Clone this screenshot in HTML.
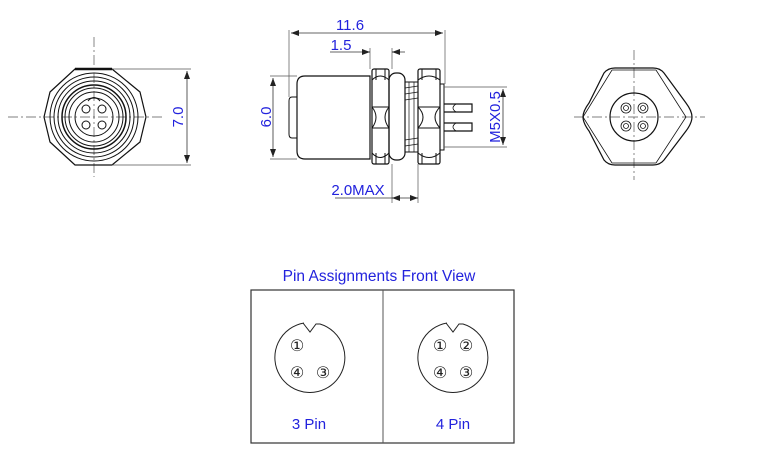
<!DOCTYPE html>
<html><head><meta charset="utf-8"><style>
html,body{margin:0;padding:0;background:#fff;width:759px;height:454px;overflow:hidden}
svg text{font-family:"Liberation Sans","DejaVu Sans",sans-serif}
</style></head><body>
<svg width="759" height="454" viewBox="0 0 759 454" xmlns="http://www.w3.org/2000/svg">
<defs>
<marker id="a" markerWidth="8" markerHeight="6" refX="8" refY="3" orient="auto-start-reverse" markerUnits="userSpaceOnUse"><path d="M0,0 L8,3 L0,6 z" fill="#222"/></marker>
</defs>
<g fill="none" stroke="#111" stroke-width="1">
<!-- LEFT VIEW -->
<path d="M8,117 H165 M94,37 V177" stroke="#555" stroke-width="0.7" stroke-dasharray="10,3,2,3"/>
<path d="M75,69 H112 L140,92 L146,117 L140,142 L112,165 H75 L50,142 L44,117 L50,92 Z" stroke-width="1.2"/>
<path d="M75,69 H112" stroke-width="2.5"/>
<circle cx="94" cy="117" r="44"/>
<circle cx="94" cy="117" r="40"/>
<circle cx="94" cy="117" r="36"/>
<circle cx="94" cy="117" r="32" stroke-width="1.5"/>
<circle cx="94" cy="117" r="29"/>
<circle cx="94" cy="117" r="25"/>
<circle cx="94" cy="117" r="19"/>
<path d="M88,101 Q94,94 100,101" />
<circle cx="86" cy="109" r="4"/><circle cx="102" cy="109" r="4"/>
<circle cx="86" cy="125" r="4"/><circle cx="102" cy="125" r="4"/>
<path d="M112,69 H191 M112,165 H191" stroke="#555" stroke-width="0.7"/>
<path d="M187,71 V163" stroke="#333" stroke-width="0.8" marker-start="url(#a)" marker-end="url(#a)"/>

<!-- MIDDLE VIEW -->
<path d="M305,76 H370 V159 H305 Q297,159 297,151 V84 Q297,76 305,76 Z" stroke-width="1.2"/>
<path d="M297,97 H292 Q289,97 289,101 V134 Q289,138 292,138 H297"/>
<rect x="372" y="69" width="17" height="95" rx="2" stroke-width="1.2"/>
<path d="M372,80 Q380,72 389,80 M372,153 Q380,162 389,153 M372,107 H389 M372,128 H389 M372,107 Q380,117 372,128 M389,107 Q381,117 389,128 M376,69 V80 M385,69 V80 M376,153 V164 M385,153 V164"/>
<rect x="389" y="73" width="16" height="87" rx="7" stroke-width="1.2"/>
<rect x="405" y="82" width="13" height="70" />
<path d="M405,88 L418,86 M405,94 L418,92 M405,100 L418,98 M405,140 L418,138 M405,146 L418,144 M409,82 V152 M414,82 V152" stroke-width="0.7"/>
<rect x="418" y="69" width="22" height="95" rx="2" stroke-width="1.2"/>
<path d="M418,80 Q429,72 440,80 M418,153 Q429,162 440,153 M418,107 H440 M418,128 H440 M418,107 Q428,117 418,128 M440,107 Q430,117 440,128 M422,69 V80 M436,69 V80 M422,153 V164 M436,153 V164"/>
<rect x="440" y="84" width="4" height="66"/>
<path d="M444,104 H472 V112 H444 M444,123 H472 V131 H444" stroke-width="1.2"/>
<path d="M456,104 Q450,108 456,112 M456,123 Q450,127 456,131" stroke-width="0.8"/>
<path d="M289,30 V97 M445,30 V84 M370,48 V69 M392,48 V69 M392,164 V203 M418,164 V203 M270,76 H297 M270,159 H297 M444,87 H507 M444,147 H507" stroke="#555" stroke-width="0.7"/>
<path d="M291,33 H443" stroke="#333" stroke-width="0.8" marker-start="url(#a)" marker-end="url(#a)"/>
<path d="M330,52 H370 M392,52 H405" stroke="#333" stroke-width="0.8"/>
<path d="M362,52 H370" stroke="#333" stroke-width="0.8" marker-end="url(#a)"/>
<path d="M400,52 H392" stroke="#333" stroke-width="0.8" marker-end="url(#a)"/>
<path d="M335,198 H392 M392,198 H418" stroke="#333" stroke-width="0.8"/>
<path d="M400,198 H392" stroke="#333" stroke-width="0.8" marker-end="url(#a)"/>
<path d="M410,198 H418" stroke="#333" stroke-width="0.8" marker-end="url(#a)"/>
<path d="M273,78 V157" stroke="#333" stroke-width="0.8" marker-start="url(#a)" marker-end="url(#a)"/>
<path d="M503,89 V145" stroke="#333" stroke-width="0.8" marker-start="url(#a)" marker-end="url(#a)"/>

<!-- RIGHT VIEW -->
<path d="M574,117 H705 M634,50 V180" stroke="#555" stroke-width="0.7" stroke-dasharray="10,3,2,3"/>
<path d="M615,68 H653 Q660,68 664,73 L686,103 Q692,111 692,117 Q692,123 686,131 L664,160 Q660,165 653,165 H615 Q608,165 604,160 L589,131 Q583,123 583,117 Q583,111 589,103 L604,73 Q608,68 615,68 Z" stroke-width="1.2"/>
<path d="M612,70 H656 L686,117 L656,163 H612 L583,117 Z" stroke-width="0.8"/>
<circle cx="634" cy="117" r="24" stroke-width="1.2"/>
<g stroke-width="0.8">
<circle cx="626" cy="108" r="5"/><circle cx="626" cy="108" r="2.5"/>
<circle cx="643" cy="108" r="5"/><circle cx="643" cy="108" r="2.5"/>
<circle cx="626" cy="126" r="5"/><circle cx="626" cy="126" r="2.5"/>
<circle cx="643" cy="126" r="5"/><circle cx="643" cy="126" r="2.5"/>
</g>

<!-- PIN TABLE -->
<rect x="251" y="290" width="263" height="153" stroke="#333" stroke-width="1.2"/>
<path d="M383,290 V443" stroke="#555" stroke-width="1"/>
<path d="M304,323 A35,35 0 1,0 320,324 L316,324 L310,332 L303,323" stroke="#222" stroke-width="1"/>
<path d="M447,323 A35,35 0 1,0 463,324 L459,324 L453,332 L446,323" stroke="#222" stroke-width="1"/>
</g>
<g fill="#222" font-size="16" text-anchor="middle" font-family="DejaVu Sans,sans-serif">
<text x="297" y="351">①</text><text x="297" y="378">④</text><text x="323" y="378">③</text>
<text x="440" y="351">①</text><text x="466" y="351">②</text><text x="440" y="378">④</text><text x="466" y="378">③</text>
</g>
<g fill="#2222dd" font-size="15">
<text x="350" y="30" text-anchor="middle">11.6</text>
<text x="341" y="50" text-anchor="middle">1.5</text>
<text x="358" y="195" text-anchor="middle">2.0MAX</text>
<text transform="translate(271,117) rotate(-90)" text-anchor="middle">6.0</text>
<text transform="translate(183,117) rotate(-90)" text-anchor="middle">7.0</text>
<text transform="translate(500,117) rotate(-90)" text-anchor="middle">M5X0.5</text>
<text x="379" y="281" text-anchor="middle" font-size="15.5">Pin Assignments Front View</text>
<text x="309" y="429" text-anchor="middle">3 Pin</text>
<text x="453" y="429" text-anchor="middle">4 Pin</text>
</g>
</svg>
</body></html>
